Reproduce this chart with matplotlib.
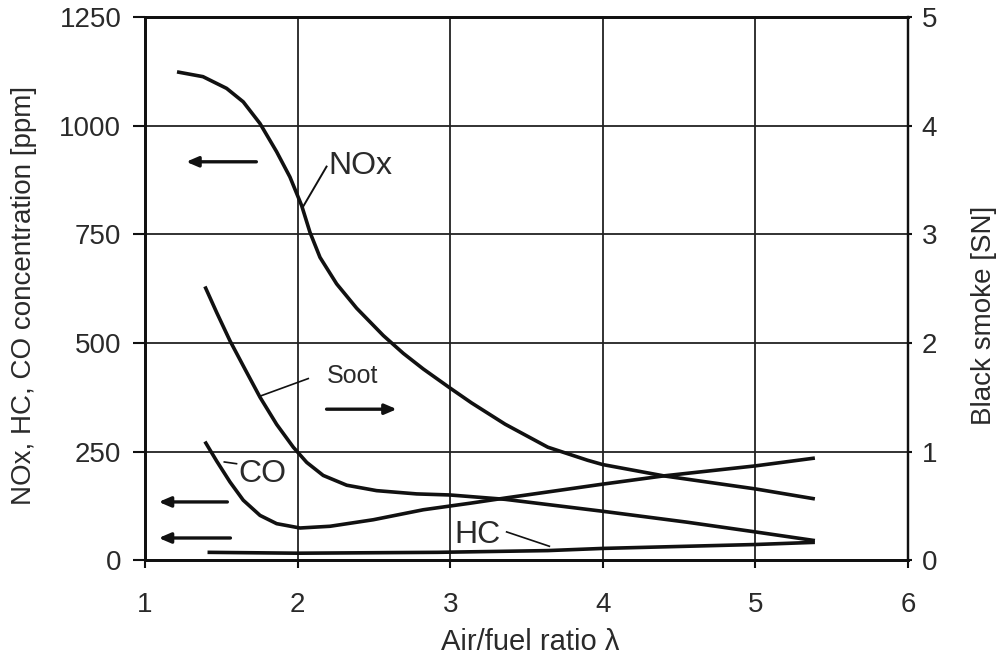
import matplotlib
matplotlib.use("Agg")
import matplotlib.pyplot as plt

plt.rcParams['font.family'] = ['Liberation Sans', 'DejaVu Sans']

# Emissions vs. air/fuel ratio (left axis: ppm, right axis: smoke number)
lam_nox = [1.21, 1.38, 1.535, 1.644, 1.754, 1.863, 1.95, 2.027, 2.081, 2.147, 2.256,
           2.387, 2.562, 2.693, 2.824, 3.00, 3.14, 3.36, 3.64, 3.90, 4.00, 4.40, 5.00, 5.39]
nox = [1124, 1113, 1086, 1055, 1005, 940, 882, 816, 755, 697, 636,
       580, 517, 476, 440, 396, 362, 313, 260, 230, 220, 194, 164, 141]

lam_co = [1.393, 1.47, 1.557, 1.644, 1.754, 1.863, 2.016, 2.213, 2.496, 2.824, 3.13,
          3.36, 4.00, 4.40, 5.00, 5.39]
co = [273, 228, 180, 138, 103, 84, 74, 78, 93, 116, 131,
      143, 175, 194, 217, 235]

lam_hc = [1.41, 2.00, 2.92, 3.64, 4.00, 5.00, 5.39]
hc = [18, 16, 18, 22, 27, 36, 41]

lam_soot = [1.393, 1.47, 1.557, 1.655, 1.754, 1.863, 1.972, 2.06, 2.168, 2.322, 2.518,
            2.78, 3.00, 3.36, 4.00, 4.55, 5.00, 5.39]
soot = [2.52, 2.28, 2.02, 1.76, 1.50, 1.25, 1.04, 0.90, 0.78, 0.69, 0.64,
        0.61, 0.60, 0.56, 0.45, 0.35, 0.26, 0.18]

x_ticks = [1, 2, 3, 4, 5, 6]
ppm_ticks = [0, 250, 500, 750, 1000, 1250]
sn_ticks = [0, 1, 2, 3, 4, 5]

ink = '#111111'
txt = '#2a2a2a'

fig = plt.figure(figsize=(9.97, 6.59), dpi=100)
ax = fig.add_axes([0.1454, 0.150, 0.7653, 0.824])
ax2 = ax.twinx()

ax.set_xlim(1, 6)
ax.set_ylim(0, 1250)
ax2.set_ylim(0, 5)

ax.set_xticks(x_ticks)
ax.set_yticks(ppm_ticks)
ax2.set_yticks(sn_ticks)

ax.grid(True, color='#222222', lw=1.3)
ax.set_axisbelow(True)

for a in (ax, ax2):
    for s in a.spines.values():
        s.set_linewidth(2.0)
        s.set_color(ink)
ax.spines['right'].set_linewidth(1.6)
ax2.spines['right'].set_linewidth(1.6)

ax.tick_params(axis='both', direction='out', width=1.5, color=ink,
               labelsize=20, labelcolor=txt)
ax.tick_params(axis='x', length=6, pad=17)
ax.tick_params(axis='y', length=9, pad=8)
ax2.tick_params(axis='y', direction='out', length=3, width=1.5, color=ink,
                labelsize=20, labelcolor=txt, pad=7)

lw = 2.6
ax.plot(lam_nox, nox, color=ink, lw=lw, solid_capstyle='butt', solid_joinstyle='round')
ax.plot(lam_co, co, color=ink, lw=lw, solid_capstyle='butt', solid_joinstyle='round')
ax.plot(lam_hc, hc, color=ink, lw=lw, solid_capstyle='butt', solid_joinstyle='round')
ax2.plot(lam_soot, soot, color=ink, lw=lw, solid_capstyle='butt', solid_joinstyle='round')

arrow = dict(arrowstyle='-|>,head_length=0.7,head_width=0.3', color=ink, lw=2.4,
             shrinkA=0, shrinkB=0)
ax.annotate('', xy=(1.27, 917), xytext=(1.73, 917), arrowprops=arrow)
ax.annotate('', xy=(1.09, 134), xytext=(1.54, 134), arrowprops=arrow)
ax.annotate('', xy=(1.09, 51), xytext=(1.56, 51), arrowprops=arrow)
ax2.annotate('', xy=(2.65, 1.39), xytext=(2.19, 1.39), arrowprops=arrow)

# Curve labels with leader lines
ax.plot([2.035, 2.19], [813, 906], color=ink, lw=1.4)
ax.text(2.2, 908, 'NOx', fontsize=23, color=txt, ha='left', va='center')

ax.plot([1.75, 2.07], [377, 418], color=ink, lw=1.2)
ax.text(2.19, 425, 'Soot', fontsize=18, color=txt, ha='left', va='center')

ax.plot([1.52, 1.60], [226, 222], color=ink, lw=1.2)
ax.text(1.61, 199, 'CO', fontsize=23, color=txt, ha='left', va='center')

ax.plot([3.37, 3.65], [65, 32], color=ink, lw=1.2)
ax.text(3.03, 58, 'HC', fontsize=23, color=txt, ha='left', va='center')

ax.set_xlabel('Air/fuel ratio λ', fontsize=21, color=txt)
ax.xaxis.set_label_coords(0.505, -0.125)
ax.set_ylabel('NOx, HC, CO concentration [ppm]', fontsize=20, color=txt)
ax.yaxis.set_label_coords(-0.142, 0.488)
ax2.set_ylabel('Black smoke [SN]', fontsize=20, color=txt)
ax2.yaxis.set_label_coords(1.082, 0.45)

fig.savefig('out.png', dpi=100)
